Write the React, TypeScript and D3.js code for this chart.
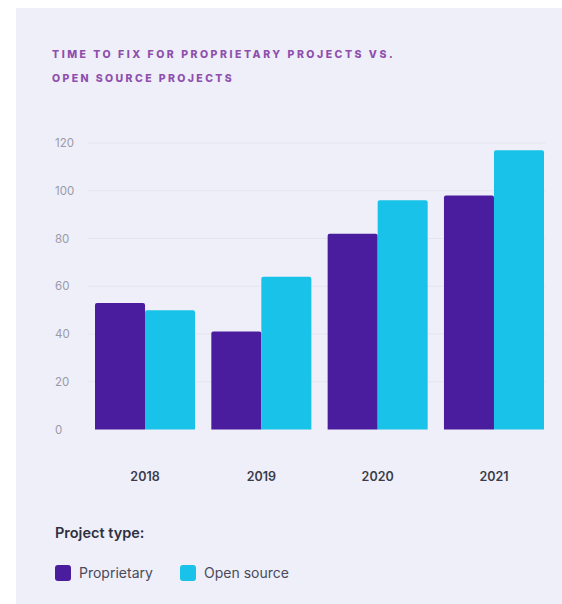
import React, { useEffect } from "react";
import * as d3 from "d3";

const years = ["2018", "2019", "2020", "2021"];
const seriesNames = ["Proprietary", "Open source"];
const proprietary = [53, 41, 82, 98];
const openSource = [50, 64, 96, 117];
const yTicks = [0, 20, 40, 60, 80, 100, 120];
const titleLines = ["TIME TO FIX FOR PROPRIETARY PROJECTS VS.", "OPEN SOURCE PROJECTS"];
const colors = ["#4a1d9e", "#18c2e8"];

const W = 562;
const H = 604;
const PANEL = "#eeeff9";

export default function App() {
  useEffect(() => {
    document.body.style.margin = "0";
    document.body.style.background = PANEL;
  }, []);

  const x0 = d3.scaleBand<string>().domain(years).range([95, 544]).paddingInner(0.14).paddingOuter(0);
  const x1 = d3.scaleBand<string>().domain(seriesNames).range([0, x0.bandwidth()]).padding(0);
  const y = d3.scaleLinear().domain([0, 120]).range([429.5, 143]);
  const values = [proprietary, openSource];

  const barPath = (x: number, yTop: number, w: number, yBot: number, r: number) => {
    const p = d3.path();
    p.moveTo(x, yBot);
    p.lineTo(x, yTop + r);
    p.quadraticCurveTo(x, yTop, x + r, yTop);
    p.lineTo(x + w - r, yTop);
    p.quadraticCurveTo(x + w, yTop, x + w, yTop + r);
    p.lineTo(x + w, yBot);
    p.closePath();
    return p.toString();
  };

  return (
    <svg
      width={W}
      height={H}
      style={{ position: "absolute", left: 0, top: 0, display: "block", overflow: "visible" }}
      fontFamily="Inter, 'Noto Sans', sans-serif"
    >
      <rect x={0} y={0} width={W + 40} height={8} fill="#ffffff" />
      <rect x={0} y={0} width={16} height={H + 40} fill="#ffffff" />
      <rect x={16} y={8} width={W + 24} height={H + 32} fill={PANEL} />
      {titleLines.map((t, i) => (
        <text
          key={i}
          x={52}
          y={58 + i * 24}
          fontSize={10.5}
          fontWeight={800}
          letterSpacing={2.4}
          fill="#8e4fae"
          textLength={i === 0 ? 343 : undefined}
          lengthAdjust="spacing"
        >
          {t}
        </text>
      ))}
      {yTicks.map((t) => (
        <g key={t}>
          {t > 0 && (
            <line x1={88} x2={546} y1={y(t)} y2={y(t)} stroke="#e4e5f2" strokeWidth={1} />
          )}
          <text x={55} y={y(t)} dy="0.35em" fontSize={11.5} fill="#9a9aa8">
            {t}
          </text>
        </g>
      ))}
      {years.map((yr, i) => (
        <g key={yr} transform={`translate(${x0(yr)},0)`}>
          {seriesNames.map((s, j) => (
            <path
              key={s}
              d={barPath(x1(s)!, y(values[j][i]), x1.bandwidth(), y(0), 2)}
              fill={colors[j]}
            />
          ))}
          <text
            x={x0.bandwidth() / 2}
            y={481}
            textAnchor="middle"
            fontSize={12.5}
            fontWeight={600}
            fill="#3b3b4a"
          >
            {yr}
          </text>
        </g>
      ))}
      <text x={55} y={538} fontSize={14.5} fontWeight={600} fill="#2f2f3e">
        Project type:
      </text>
      {seriesNames.map((s, j) => {
        const lx = j === 0 ? 55 : 180;
        return (
          <g key={s} transform={`translate(${lx},565)`}>
            <rect x={0} y={0} width={16} height={16} rx={3} fill={colors[j]} />
            <text x={24} y={8} dy="0.35em" fontSize={14} fill="#4a4a5a">
              {s}
            </text>
          </g>
        );
      })}
    </svg>
  );
}
